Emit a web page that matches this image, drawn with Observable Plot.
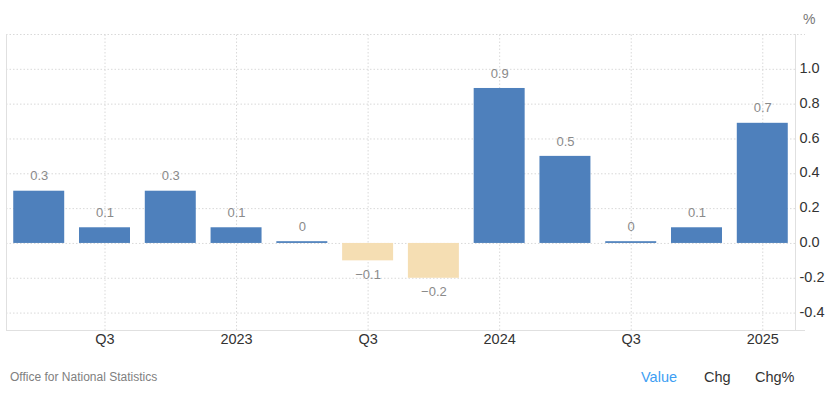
<!DOCTYPE html>
<html>
<head>
<meta charset="utf-8">
<script src="https://cdn.jsdelivr.net/npm/d3@7"></script>
<script src="https://cdn.jsdelivr.net/npm/@observablehq/plot@0.6"></script>
<style>
  html, body { margin: 0; padding: 0; background: #fff; }
  body { width: 836px; height: 393px; overflow: hidden; font-family: "Liberation Sans", Arial, sans-serif; }
  #footer { position: relative; width: 836px; height: 38px; font-family: "Liberation Sans", Arial, sans-serif; }
  #footer span { position: absolute; top: 22px; transform: translateY(-50%); white-space: nowrap; }
  #src { left: 10px; font-size: 12px; color: #808080; }
  .btn { font-size: 14.5px; color: #333; }
  #value { left: 641px; color: #3d9ef3; }
  #chg { left: 704px; }
  #chgp { left: 755px; }
</style>
</head>
<body>
<div id="chart"></div>
<div id="footer">
  <span id="src">Office for National Statistics</span>
  <span class="btn" id="value">Value</span>
  <span class="btn" id="chg">Chg</span>
  <span class="btn" id="chgp">Chg%</span>
</div>
<script>
const quarters = ["2022Q2","2022Q3","2022Q4","2023Q1","2023Q2","2023Q3","2023Q4","2024Q1","2024Q2","2024Q3","2024Q4","2025Q1"];
const values = [0.3, 0.09, 0.3, 0.09, 0.01, -0.1, -0.2, 0.89, 0.5, 0.01, 0.09, 0.69];
const valueLabels = ["0.3","0.1","0.3","0.1","0","\u22120.1","\u22120.2","0.9","0.5","0","0.1","0.7"];
const tickQuarters = ["2022Q3","2023Q1","2023Q3","2024Q1","2024Q3","2025Q1"];
const tickLabels = ["Q3","2023","Q3","2024","Q3","2025"];
const yTicks = [-0.4, -0.2, 0, 0.2, 0.4, 0.6, 0.8, 1.0];
const yGrid = [-0.4, -0.2, 0, 0.2, 0.4, 0.6, 0.8, 1.0, 1.2];

const data = quarters.map((q, i) => ({q, v: values[i], label: valueLabels[i]}));
const tickMap = new Map(tickQuarters.map((q, i) => [q, tickLabels[i]]));

const chart = Plot.plot({
  width: 836,
  height: 355,
  marginLeft: 6,
  marginRight: 41,
  marginTop: 34,
  marginBottom: 25,
  style: {fontFamily: "'Liberation Sans', Arial, sans-serif", background: "#fff"},
  x: {type: "band", domain: quarters, paddingInner: 0.225, paddingOuter: 0.11, round: false, axis: null, label: null},
  y: {domain: [-0.5, 1.2], axis: null, label: null},
  marks: [
    Plot.ruleY(yGrid.filter(d => d < 1.2), {stroke: "#d9d9d9", strokeDasharray: "1.5,2"}),
    Plot.ruleY([1.2], {stroke: "#d9d9d9", strokeDasharray: "1.5,2", insetRight: -10}),
    Plot.ruleX(tickQuarters, {x: d => d, y1: -0.5, y2: 1.2, stroke: "#d9d9d9", strokeDasharray: "1.5,2"}),
    Plot.frame({anchor: "left", stroke: "#e0e0e0"}),
    Plot.frame({anchor: "right", stroke: "#e0e0e0"}),
    Plot.ruleY([-0.5], {stroke: "#e0e0e0", insetRight: -10}),
    Plot.barY(data, {x: "q", y: "v", fill: d => d.v < 0 ? "#f5deb3" : "#4e80bc"}),
    Plot.text(data.filter(d => d.v >= 0), {x: "q", y: "v", text: "label", dy: -15, fill: "#8a8a8a", fontSize: 13}),
    Plot.text(data.filter(d => d.v < 0), {x: "q", y: "v", text: "label", dy: 14, fill: "#8a8a8a", fontSize: 13}),
    Plot.axisY({anchor: "right", label: null, ticks: yTicks, tickSize: 0, tickPadding: 4, tickFormat: d => d.toFixed(1).replace("\u2212", "-"), fontSize: 14.5, fill: "#333", dy: -1}),
    Plot.axisX({label: null, ticks: tickQuarters, tickSize: 0, tickPadding: 3, tickFormat: d => tickMap.get(d), fontSize: 14.5, fill: "#333"}),
    Plot.text(["%"], {frameAnchor: "top-right", dx: 20, dy: -20, fill: "#777", fontSize: 14})
  ]
});
document.getElementById("chart").appendChild(chart);
</script>
</body>
</html>
